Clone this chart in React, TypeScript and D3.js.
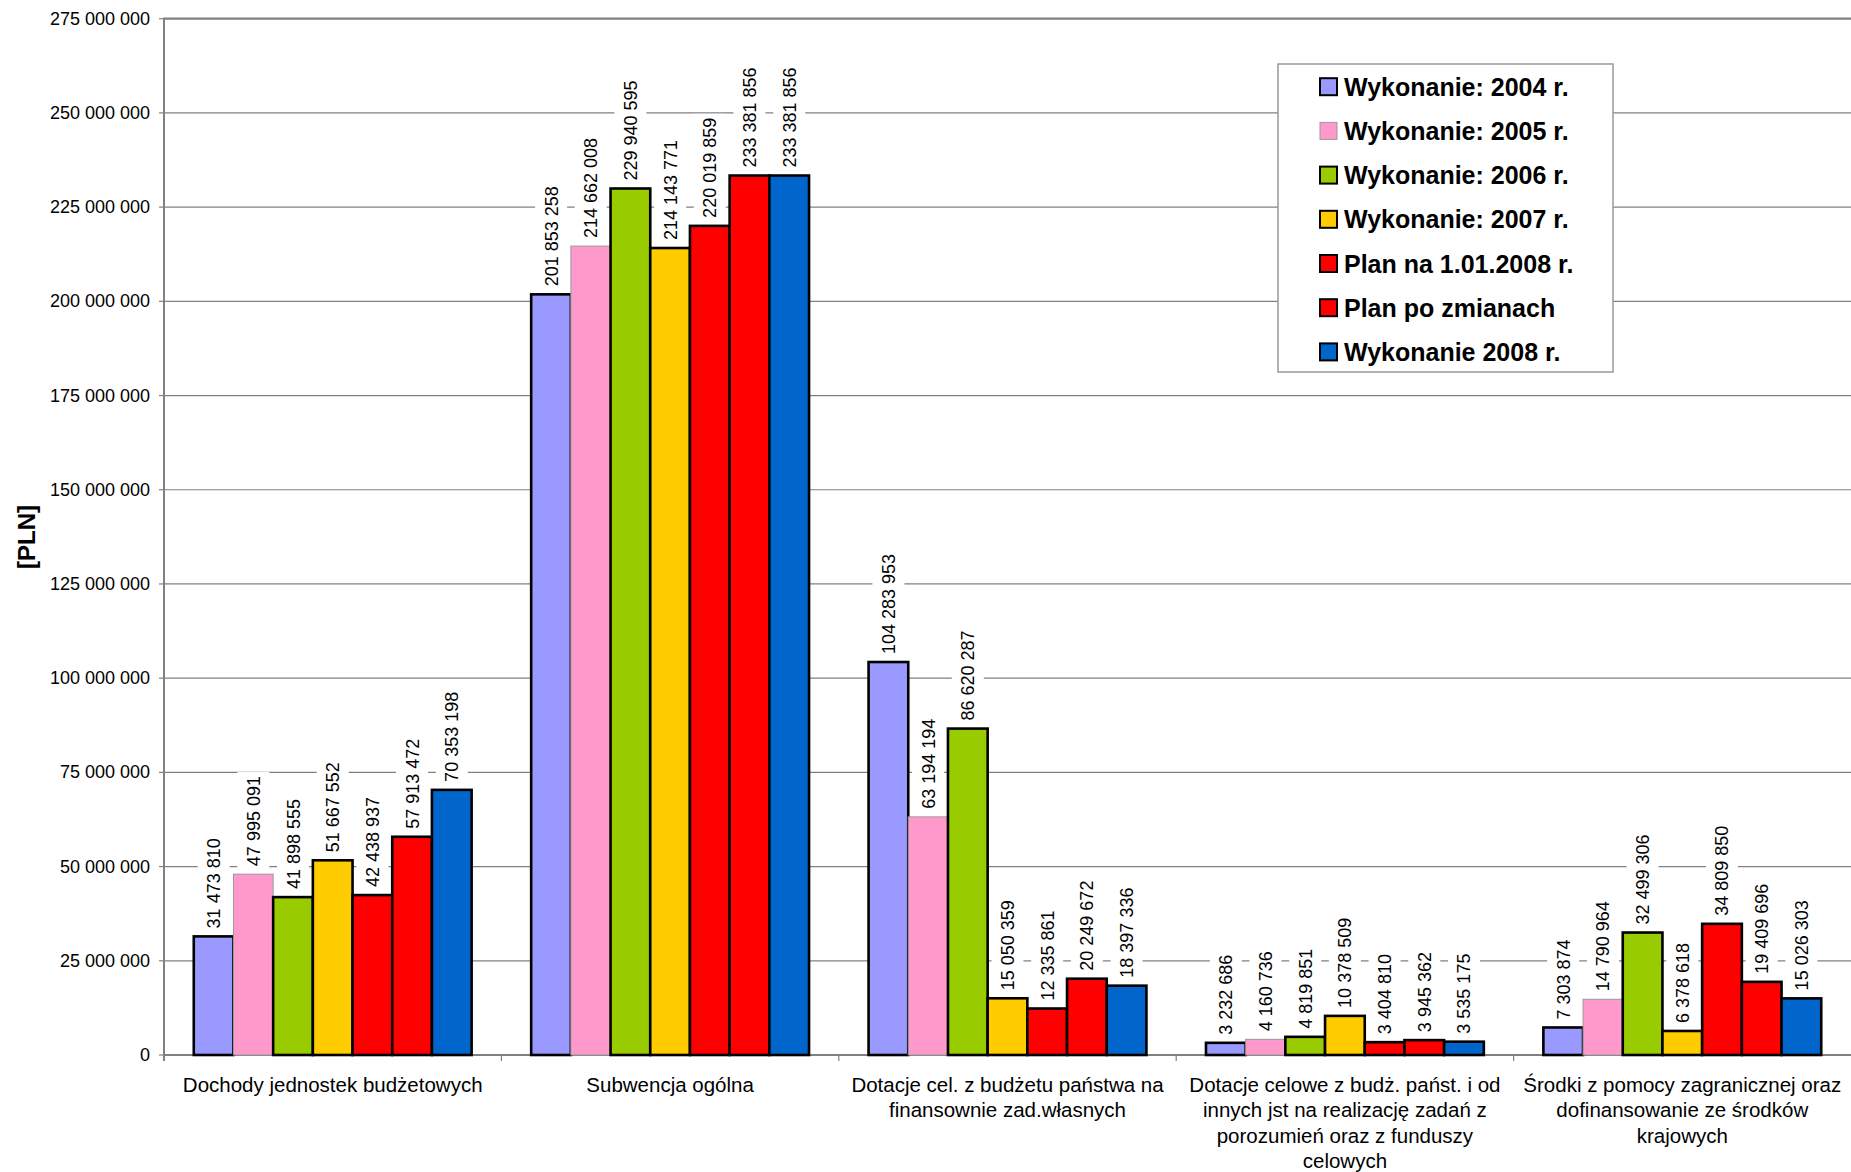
import React from "react";
import * as d3 from "d3";

const categories = [
  "Dochody jednostek budżetowych",
  "Subwencja ogólna",
  "Dotacje cel. z budżetu państwa na finansownie zad.własnych",
  "Dotacje celowe z budż. państ. i od innych jst na realizację zadań z porozumień oraz z funduszy celowych",
  "Środki z pomocy zagranicznej oraz dofinansowanie ze środków krajowych",
];
const categoryLines = [
  ["Dochody jednostek budżetowych"],
  ["Subwencja ogólna"],
  ["Dotacje cel. z budżetu państwa na", "finansownie zad.własnych"],
  ["Dotacje celowe z budż. państ. i od", "innych jst na realizację zadań z", "porozumień oraz z funduszy", "celowych"],
  ["Środki z pomocy zagranicznej oraz", "dofinansowanie ze środków", "krajowych"],
];

const seriesNames = [
  "Wykonanie: 2004 r.",
  "Wykonanie: 2005 r.",
  "Wykonanie: 2006 r.",
  "Wykonanie: 2007 r.",
  "Plan na 1.01.2008 r.",
  "Plan po zmianach",
  "Wykonanie 2008 r.",
];
const seriesColors = ["#9999FF", "#FF99CC", "#99CC00", "#FFCC00", "#FF0000", "#FF0000", "#0066CC"];

const wykonanie2004 = [31473810, 201853258, 104283953, 3232686, 7303874];
const wykonanie2005 = [47995091, 214662008, 63194194, 4160736, 14790964];
const wykonanie2006 = [41898555, 229940595, 86620287, 4819851, 32499306];
const wykonanie2007 = [51667552, 214143771, 15050359, 10378509, 6378618];
const planNa2008 = [42438937, 220019859, 12335861, 3404810, 34809850];
const planPoZmianach = [57913472, 233381856, 20249672, 3945362, 19409696];
const wykonanie2008 = [70353198, 233381856, 18397336, 3535175, 15026303];
const seriesValues = [wykonanie2004, wykonanie2005, wykonanie2006, wykonanie2007, planNa2008, planPoZmianach, wykonanie2008];

const yTicks = d3.range(0, 275000001, 25000000);

const W = 1851;
const H = 1172;
const FONT = "'Liberation Sans', Arial, sans-serif";

const fmt = (v: number) => d3.format(",")(v).replace(/,/g, " ");
const textLen = (s: string, fs: number) =>
  s.split("").reduce((a, c) => a + (c === " " ? 0.278 : 0.556) * fs, 0);

export default function App() {
  const left = 164;
  const right = 1851;
  const top = 18.7;
  const bottom = 1055;

  const x0 = d3.scaleBand<string>().domain(categories).range([left, right]).paddingInner(0).paddingOuter(0);
  const x1 = d3
    .scaleBand<string>()
    .domain(seriesNames)
    .range([0, x0.bandwidth()])
    .paddingInner(0)
    .paddingOuter(0.75);
  const y = d3.scaleLinear().domain([0, 275000000]).range([bottom, top]);

  const labelFs = 18;

  return (
    <svg
      width={W}
      height={H}
      style={{ position: "absolute", left: 0, top: 0, display: "block", background: "#fff" }}
      fontFamily={FONT}
    >
      <rect x={0} y={0} width={W} height={H} fill="#fff" />
      {yTicks.map((t) => (
        <line
          key={"g" + t}
          x1={left}
          x2={right}
          y1={y(t)}
          y2={y(t)}
          stroke="#808080"
          strokeWidth={t === 0 || t === 275000000 ? 2.2 : 1.2}
        />
      ))}
      {yTicks.map((t) => (
        <g key={"t" + t}>
          <line x1={left - 5} x2={left} y1={y(t)} y2={y(t)} stroke="#808080" strokeWidth={1.2} />
          <text x={150} y={y(t)} textAnchor="end" dominantBaseline="central" fontSize={18} fill="#000">
            {fmt(t)}
          </text>
        </g>
      ))}
      <line x1={left} x2={left} y1={top - 1} y2={bottom + 6} stroke="#808080" strokeWidth={2} />
      {categories.map((c, i) =>
        i === 0 ? null : (
          <line
            key={"ct" + i}
            x1={x0(c)!}
            x2={x0(c)!}
            y1={bottom}
            y2={bottom + 6}
            stroke="#808080"
            strokeWidth={1.2}
          />
        )
      )}
      {categories.map((c, ci) =>
        seriesNames.map((s, si) => {
          const v = seriesValues[si][ci];
          const bx = x0(c)! + x1(s)!;
          const by = y(v);
          const pink = si === 1;
          return (
            <rect
              key={"b" + ci + "-" + si}
              x={bx}
              y={by}
              width={x1.bandwidth()}
              height={bottom - by}
              fill={seriesColors[si]}
              stroke={pink ? "#999999" : "#000"}
              strokeWidth={pink ? 1 : 2.6}
            />
          );
        })
      )}
      {categories.map((c, ci) =>
        seriesNames.map((s, si) => {
          const v = seriesValues[si][ci];
          const cx = x0(c)! + x1(s)! + x1.bandwidth() / 2;
          const by = y(v);
          const txt = fmt(v);
          const len = textLen(txt, labelFs);
          const start = by - 8;
          return (
            <g key={"l" + ci + "-" + si}>
              <rect x={cx - 16} y={start - len - 4} width={32} height={len + 8} fill="#fff" />
              <text
                transform={`translate(${cx + 0.5},${start}) rotate(-90)`}
                textAnchor="start"
                dominantBaseline="central"
                fontSize={labelFs}
                fill="#000"
              >
                {txt}
              </text>
            </g>
          );
        })
      )}
      {categories.map((c, ci) => (
        <text
          key={"cl" + ci}
          x={x0(c)! + x0.bandwidth() / 2}
          y={1084}
          textAnchor="middle"
          fontSize={20.5}
          fill="#000"
        >
          {categoryLines[ci].map((ln, li) => (
            <tspan key={li} x={x0(c)! + x0.bandwidth() / 2} y={1084 + li * 25.5} dominantBaseline="central">
              {ln}
            </tspan>
          ))}
        </text>
      ))}
      <text
        transform={`translate(26,537) rotate(-90)`}
        textAnchor="middle"
        dominantBaseline="central"
        fontSize={24}
        fontWeight="bold"
        fill="#000"
      >
        [PLN]
      </text>
      <rect x={1278} y={64} width={335} height={308} fill="#fff" stroke="#999999" strokeWidth={1.5} />
      {seriesNames.map((s, si) => {
        const cy = 86.7 + si * 44.2;
        const pink = si === 1;
        return (
          <g key={"lg" + si}>
            <rect
              x={1320}
              y={cy - 8.5}
              width={17}
              height={17}
              fill={seriesColors[si]}
              stroke={pink ? "#999999" : "#000"}
              strokeWidth={pink ? 1 : 2}
            />
            <text x={1344} y={cy} dominantBaseline="central" fontSize={25} fontWeight="bold" fill="#000">
              {s}
            </text>
          </g>
        );
      })}
    </svg>
  );
}
